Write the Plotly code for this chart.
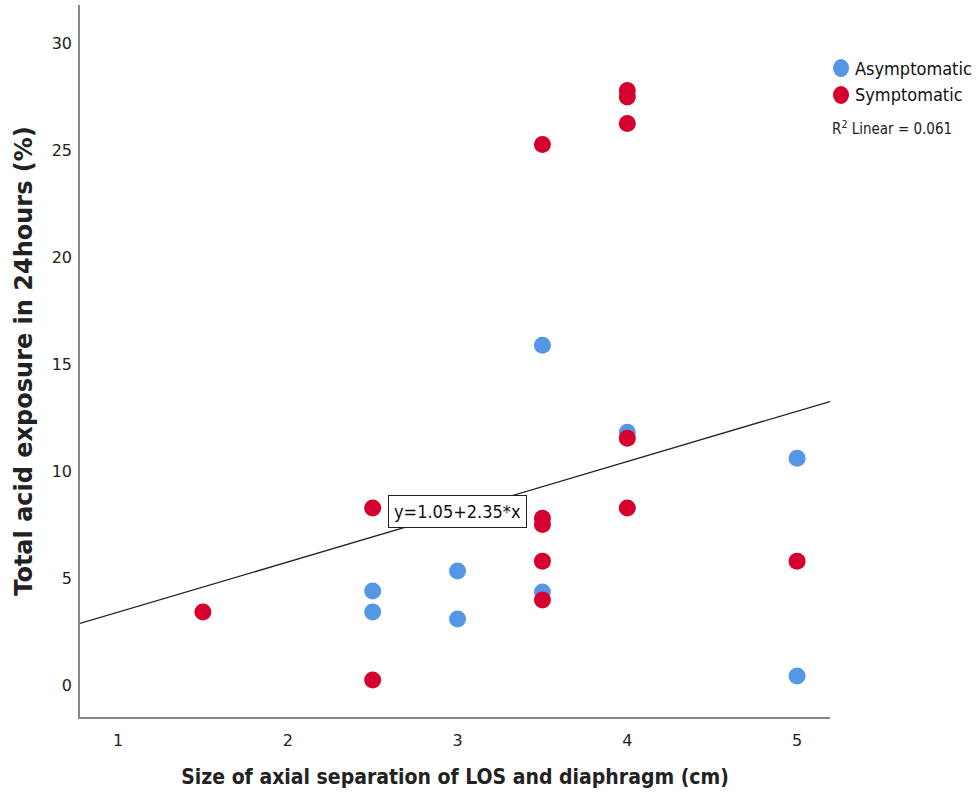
import plotly.graph_objects as go
import numpy as np

# Data
asym_x = [2.5, 2.5, 3.0, 3.0, 3.5, 3.5, 4.0, 5.0, 5.0]
asym_y = [4.39, 3.41, 5.33, 3.08, 15.89, 4.35, 11.82, 10.6, 0.42]
sym_x = [1.5, 2.5, 2.5, 3.5, 3.5, 3.5, 3.5, 3.5, 4.0, 4.0, 4.0, 4.0, 4.0, 5.0]
sym_y = [3.41, 8.27, 0.23, 25.28, 7.8, 7.5, 5.79, 3.97, 27.8, 27.5, 26.26, 11.54, 8.27, 5.79]
intercept = 1.05
slope = 2.35
r2 = 0.061
x_range = [0.776, 5.194]
y_range = [-1.5, 31.8]
x_ticks = [1, 2, 3, 4, 5]
y_ticks = [0, 5, 10, 15, 20, 25, 30]
legend_names = ["Asymptomatic", "Symptomatic"]

blue = "#5597e6"
red = "#d6002f"
colors = [blue, red]
tick_font = dict(family="DejaVu Sans", size=16, color="#222222")
cond = "DejaVu Sans Condensed, DejaVu Sans"

fig = go.Figure()
line_x = np.array(x_range)
fig.add_trace(go.Scatter(x=line_x, y=intercept + slope * line_x, mode="lines",
                         line=dict(color="#222222", width=1.3), showlegend=False,
                         hoverinfo="skip"))
fig.add_trace(go.Scatter(x=asym_x, y=asym_y, mode="markers", name=legend_names[0],
                         marker=dict(color=blue, size=17, line=dict(width=0))))
fig.add_trace(go.Scatter(x=sym_x, y=sym_y, mode="markers", name=legend_names[1],
                         marker=dict(color=red, size=17, line=dict(width=0))))

fig.add_annotation(x=3.0, y=8.13, xref="x", yref="y",
                   text=f"y={intercept:.2f}+{slope:.2f}*x", showarrow=False,
                   font=dict(family=cond, size=18, color="#111111"),
                   bgcolor="white", bordercolor="#222222", borderwidth=1, borderpad=5)

# manual legend
leg_y = [0.9115, 0.8736]
for name, c, yy in zip(legend_names, colors, leg_y):
    fig.add_shape(type="circle", xref="paper", yref="paper", xsizemode="pixel", ysizemode="pixel",
                  xanchor=1.0147, yanchor=yy, x0=-8, x1=8, y0=-9, y1=9,
                  fillcolor=c, line=dict(width=0))
    fig.add_annotation(x=1.0307, y=yy, xref="paper", yref="paper", text=name, showarrow=False,
                       xanchor="left", yanchor="middle",
                       font=dict(family=cond, size=18, color="#111111"))

fig.add_annotation(x=1.0, y=0.827, xref="paper", yref="paper",
                   text=f"R<sup>2</sup> Linear = {r2:.3f}", showarrow=False,
                   xanchor="left", yanchor="middle",
                   font=dict(family=cond, size=15, color="#222222"))

fig.update_layout(
    width=978, height=807,
    margin=dict(l=80, r=148, t=5, b=90),
    plot_bgcolor="white", paper_bgcolor="white",
    showlegend=False,
    xaxis=dict(range=x_range, tickvals=x_ticks, ticks="", showgrid=False, zeroline=False,
               showline=True, linecolor="#888888", linewidth=1.5, mirror=False,
               tickfont=tick_font, automargin=False, ticklabelstandoff=8,
               title=dict(text="<b>Size of axial separation of LOS and diaphragm (cm)</b>",
                          font=dict(family=cond, size=21, color="#222222"),
                          standoff=20)),
    yaxis=dict(range=y_range, tickvals=y_ticks, ticks="", showgrid=False, zeroline=False,
               showline=True, linecolor="#888888", linewidth=1.5, mirror=False,
               tickfont=tick_font, ticklabelstandoff=3, automargin=False,
               title=dict(text="<b>Total acid exposure in 24hours (%)</b>",
                          font=dict(family="DejaVu Sans", size=24, color="#222222"),
                          standoff=12)),
)

fig.write_html("out.html", config={"displayModeBar": False})
with open("out.html", "r", encoding="utf-8") as f:
    html = f.read()
html = html.replace("<body>", '<body style="margin:0;padding:0;overflow:hidden">', 1)
with open("out.html", "w", encoding="utf-8") as f:
    f.write(html)
